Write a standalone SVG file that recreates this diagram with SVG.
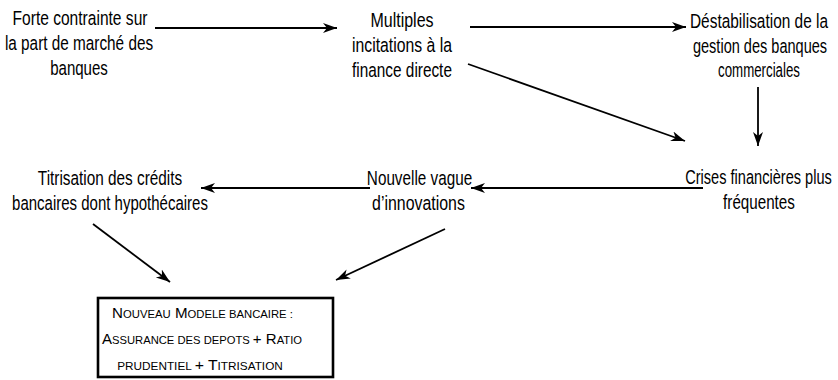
<svg xmlns="http://www.w3.org/2000/svg" width="838" height="380" viewBox="0 0 838 380">
<style>
  .t { font-family: "Liberation Sans", Arial, sans-serif; font-size: 19.5px; fill: #000; text-anchor: middle; }
  .b { font-family: "Liberation Sans", Arial, sans-serif; font-size: 15px; fill: #000; text-anchor: middle; }
  .sc { font-size: 11.2px; }
  .c { stroke: #000; stroke-width: 1.8; fill: none; marker-end: url(#ah); }
</style>
<defs>
  <marker id="ah" markerUnits="userSpaceOnUse" markerWidth="16" markerHeight="12" refX="14" refY="5" orient="auto" viewBox="0 0 16 10">
    <path d="M0,0 L14,5 L0,10 L4,5 z" fill="#000"/>
  </marker>
</defs>
<rect width="838" height="380" fill="#fff"/>
<g id="connectors">
  <line class="c" x1="155" y1="28" x2="337" y2="28"/>
  <line class="c" x1="470" y1="27" x2="686" y2="27"/>
  <line class="c" x1="468" y1="64" x2="685" y2="141"/>
  <line class="c" x1="758" y1="87" x2="758" y2="146"/>
  <line class="c" x1="703" y1="188" x2="471" y2="188"/>
  <line class="c" x1="370" y1="188" x2="201" y2="188"/>
  <line class="c" x1="93" y1="224" x2="170" y2="282"/>
  <line class="c" x1="445" y1="229" x2="336" y2="280"/>
</g>
<g id="n1">
  <text class="t" transform="translate(80 25) scale(0.78 1)" textLength="173" lengthAdjust="spacingAndGlyphs">Forte contrainte sur</text>
  <text class="t" transform="translate(79 50) scale(0.78 1)" textLength="190" lengthAdjust="spacingAndGlyphs">la part de marché des</text>
  <text class="t" transform="translate(79 75) scale(0.78 1)" textLength="74" lengthAdjust="spacingAndGlyphs">banques</text>
</g>
<g id="n2">
  <text class="t" transform="translate(402 27) scale(0.78 1)" textLength="81" lengthAdjust="spacingAndGlyphs">Multiples</text>
  <text class="t" transform="translate(402 52) scale(0.78 1)" textLength="128" lengthAdjust="spacingAndGlyphs">incitations à la</text>
  <text class="t" transform="translate(402 77) scale(0.78 1)" textLength="128" lengthAdjust="spacingAndGlyphs">finance directe</text>
</g>
<g id="n3">
  <text class="t" transform="translate(759 28) scale(0.78 1)" textLength="177" lengthAdjust="spacingAndGlyphs">Déstabilisation de la</text>
  <text class="t" transform="translate(760 53) scale(0.78 1)" textLength="172" lengthAdjust="spacingAndGlyphs">gestion des banques</text>
  <text class="t" transform="translate(759 77) scale(0.78 1)" textLength="105" lengthAdjust="spacingAndGlyphs">commerciales</text>
</g>
<g id="n4">
  <text class="t" transform="translate(758.5 184) scale(0.78 1)" textLength="188" lengthAdjust="spacingAndGlyphs">Crises financières plus</text>
  <text class="t" transform="translate(759 209) scale(0.78 1)" textLength="92" lengthAdjust="spacingAndGlyphs">fréquentes</text>
</g>
<g id="n5">
  <text class="t" transform="translate(419.5 185) scale(0.78 1)" textLength="135" lengthAdjust="spacingAndGlyphs">Nouvelle vague</text>
  <text class="t" transform="translate(418.5 210) scale(0.78 1)" textLength="119" lengthAdjust="spacingAndGlyphs">d’innovations</text>
</g>
<g id="n6">
  <text class="t" transform="translate(110 185) scale(0.78 1)" textLength="185" lengthAdjust="spacingAndGlyphs">Titrisation des crédits</text>
  <text class="t" transform="translate(110 210) scale(0.78 1)" textLength="251" lengthAdjust="spacingAndGlyphs">bancaires dont hypothécaires</text>
</g>
<g id="n7">
  <rect x="98" y="298" width="235" height="79" fill="#fff" stroke="#000" stroke-width="2.6"/>
  <text class="b" transform="translate(202.5 318) scale(0.8 1)" textLength="226" lengthAdjust="spacingAndGlyphs">N<tspan class="sc">OUVEAU</tspan> M<tspan class="sc">ODELE BANCAIRE :</tspan></text>
  <text class="b" transform="translate(202 344) scale(0.8 1)" textLength="250" lengthAdjust="spacingAndGlyphs">A<tspan class="sc">SSURANCE DES DEPOTS </tspan>+ R<tspan class="sc">ATIO</tspan></text>
  <text class="b" transform="translate(200 370) scale(0.8 1)" textLength="207" lengthAdjust="spacingAndGlyphs"><tspan class="sc">PRUDENTIEL </tspan>+ T<tspan class="sc">ITRISATION</tspan></text>
</g>
</svg>
